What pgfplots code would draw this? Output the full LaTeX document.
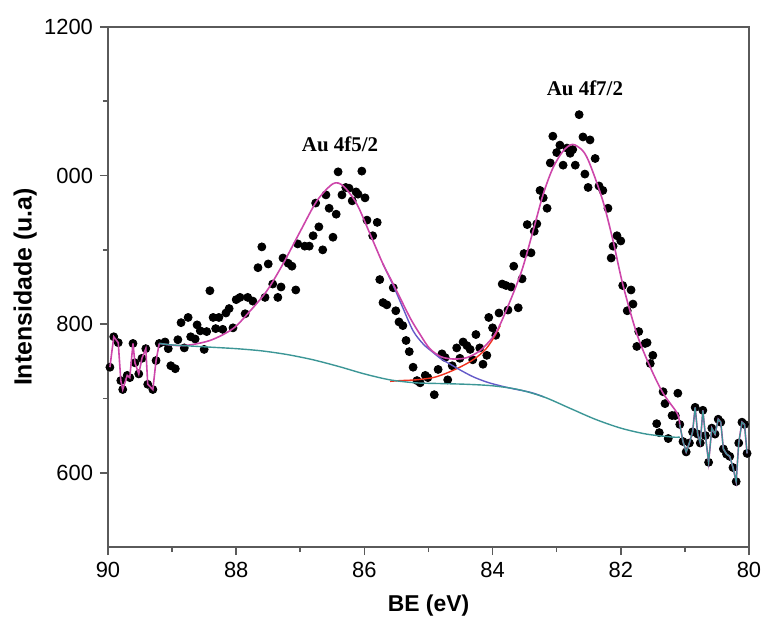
\documentclass[border=0pt]{standalone}
\usepackage{fontspec}
\setmainfont{Liberation Sans}
\newfontfamily\serifb{Liberation Serif}
\usepackage{pgfplots}
\pgfplotsset{compat=1.18}
\definecolor{fitmag}{RGB}{205,70,170}
\definecolor{bgteal}{RGB}{60,150,150}
\definecolor{pkblue}{RGB}{100,90,200}
\definecolor{pkred}{RGB}{240,50,30}
\definecolor{axgray}{RGB}{90,90,90}

\pgfplotstableread{
x y
89.97 742
89.91 783
89.84 775
89.80 724
89.77 712
89.70 731
89.66 728
89.61 774
89.58 748
89.52 733
89.47 754
89.41 767
89.38 719
89.30 712
89.25 751
89.20 774
}\lefttail

\pgfplotstableread{
x y
81.08 665
81.03 642
80.98 628
80.93 640
80.88 655
80.84 688
80.80 652
80.76 640
80.72 684
80.68 650
80.63 614
80.58 660
80.53 652
80.48 672
80.44 668
80.40 632
80.35 625
80.30 622
80.25 607
80.20 588
80.16 640
80.11 668
80.07 665
80.03 626
}\righttail

\pgfplotstableread{
x y
89.11 776
89.06 767
89.02 744
88.95 740
88.91 779
88.86 802
88.81 768
88.75 809
88.71 783
88.64 780
88.61 799
88.56 791
88.50 766
88.46 790
88.41 845
88.36 809
88.32 794
88.27 809
88.21 793
88.16 815
88.11 821
88.05 795
88.00 833
87.94 836
87.86 814
87.82 836
87.74 831
87.66 876
87.60 904
87.55 836
87.50 881
87.43 854
87.35 836
87.30 850
87.27 889
87.19 882
87.13 878
87.07 846
87.04 908
86.93 905
86.86 905
86.80 919
86.76 963
86.71 931
86.65 900
86.60 974
86.55 956
86.49 917
86.44 948
86.41 1005
86.35 974
86.29 984
86.24 983
86.19 966
86.13 978
86.10 975
86.04 1006
85.99 970
85.96 940
85.87 919
85.80 937
85.76 860
85.71 829
85.65 826
85.55 849
85.51 818
85.46 803
85.40 798
85.35 778
85.30 763
85.24 742
85.18 724
85.13 721
85.05 731
85.01 728
84.91 705
84.85 739
84.79 760
84.74 755
84.70 725
84.63 744
84.56 768
84.51 754
84.46 776
84.40 771
84.35 766
84.31 752
84.26 786
84.20 768
84.15 746
84.09 758
84.06 809
84.00 795
83.95 785
83.90 815
83.85 854
83.79 852
83.76 819
83.71 850
83.67 878
83.60 822
83.54 861
83.51 895
83.46 934
83.40 896
83.35 925
83.31 935
83.26 980
83.21 970
83.15 956
83.10 1017
83.06 1053
83.00 1031
82.95 1041
82.90 1014
82.84 1037
82.79 1030
82.75 1035
82.71 1014
82.65 1082
82.59 1052
82.56 1002
82.51 984
82.48 1048
82.40 1023
82.34 986
82.28 980
82.20 956
82.15 889
82.12 905
82.06 919
82.00 912
81.97 852
81.90 818
81.84 846
81.81 827
81.75 770
81.72 790
81.62 774
81.59 775
81.54 747
81.50 758
81.44 666
81.40 654
81.34 709
81.31 693
81.26 646
81.20 677
81.15 677
81.11 707
}\middata

\pgfplotstableread{
x y
89.20 774
89.00 772
88.80 771
88.40 769
88.00 767
87.60 764
87.20 759
86.80 752
86.40 743
86.00 733
85.60 725
85.20 721
84.80 720
84.40 719
84.00 717
83.60 712
83.20 702
82.80 687
82.40 672
82.00 660
81.60 652
81.20 648
81.08 648
}\teal

\pgfplotstableread{
x y
89.20 774
88.83 771
88.41 778
88.05 794
87.78 818
87.52 845
87.27 881
87.00 925
86.74 966
86.49 989
86.33 986
86.12 962
85.91 921
85.71 881
85.55 854
85.29 809
85.13 786
84.98 767
84.80 756
84.60 753
84.40 755
84.20 764
84.00 782
83.88 800
83.68 841
83.53 876
83.37 925
83.21 975
83.06 1010
82.90 1033
82.75 1042
82.59 1033
82.48 1015
82.28 966
82.12 912
81.97 854
81.75 787
81.54 742
81.34 707
81.12 680
81.08 665
}\magfit

\pgfplotstableread{
x y
85.71 881
85.55 852
85.40 822
85.24 791
85.08 773
84.93 762
84.80 753
84.66 746
84.50 738
84.30 729
84.09 722
83.88 717
83.68 713
83.40 708
83.20 702
}\bluepk

\pgfplotstableread{
x y
85.60 723
85.44 724
85.20 725
84.93 728
84.75 733
84.56 740
84.38 748
84.24 756
84.10 767
83.98 782
83.88 798
}\redpk

\begin{document}
\begin{tikzpicture}
\begin{axis}[
  scale only axis, width=320.5bp, height=260bp,
  x dir=reverse, xmin=80, xmax=90, ymin=500, ymax=1200,
  xtick={80,82,84,86,88,90}, minor xtick={81,83,85,87,89},
  ytick={600,800,1000,1200}, yticklabels={600,800,000,1200},
  minor ytick={700,900,1100},
  xtick pos=bottom, ytick pos=left, tick align=outside,
  major tick length=4bp, minor tick length=2.5bp,
  every tick/.style={axgray, line width=0.8bp},
  axis line style={axgray, line width=1bp},
  /pgf/number format/assume math mode=true,
  tick label style={font=\fontsize{11}{13}\selectfont},
  xlabel={BE (eV)}, ylabel={Intensidade (u.a)},
  xlabel style={font=\fontsize{11.5}{13}\selectfont\bfseries, at={(axis description cs:0.5,-0.112)},anchor=center},
  ylabel style={font=\fontsize{12.5}{14}\selectfont\bfseries, at={(axis description cs:-0.129,0.5)},anchor=center},
  clip mode=individual,
]
\coordinate (bl) at (axis description cs:0,0);
\coordinate (tr) at (axis description cs:1,1);
% data points
\addplot[only marks, mark=*, mark size=2bp, black] table {\middata};
\addplot[only marks, mark=*, mark size=2bp, black] table {\lefttail};
\addplot[only marks, mark=*, mark size=2bp, black] table {\righttail};
% components
\addplot[pkred, line width=0.7bp, smooth] table {\redpk};
\addplot[pkblue, line width=0.7bp, smooth] table {\bluepk};
\addplot[fitmag, line width=0.8bp, smooth] table {\magfit};
\addplot[fitmag, line width=0.8bp] table {\lefttail};
\addplot[fitmag, line width=0.8bp] table {\righttail};
\addplot[bgteal, line width=0.7bp, smooth] table {\teal};
\addplot[bgteal, line width=0.6bp] table {\righttail};
\node[font=\serifb\bfseries\fontsize{10.5}{12}\selectfont] at (axis cs:86.38,1042) {Au 4f5/2};
\node[font=\serifb\bfseries\fontsize{10.5}{12}\selectfont] at (axis cs:82.56,1117) {Au 4f7/2};
\end{axis}
\pgfresetboundingbox
\path ([shift={(-54bp,-38bp)}]bl) rectangle ([shift={(7bp,13.5bp)}]tr);
\end{tikzpicture}
\end{document}
